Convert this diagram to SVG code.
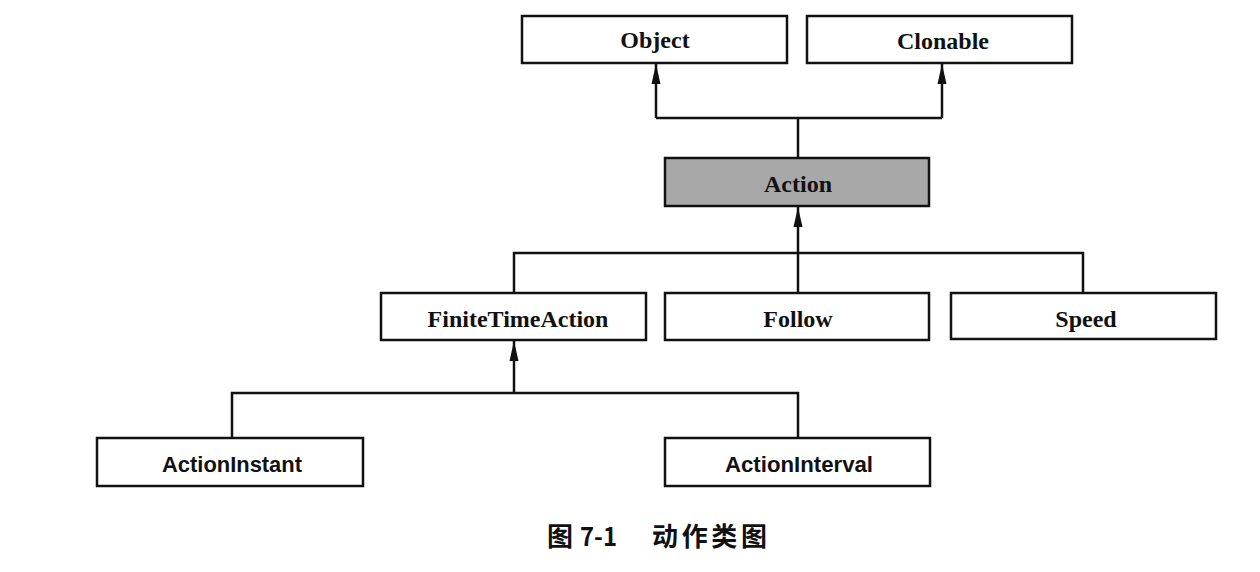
<svg xmlns="http://www.w3.org/2000/svg" width="1260" height="572" viewBox="0 0 1260 572">
<style>
.box{fill:#ffffff;stroke:#111;stroke-width:2.5}
.gray{fill:#a8a8a8}
.t{font-family:"Liberation Serif","Times New Roman",serif;font-weight:bold;font-size:24px;fill:#111;text-anchor:middle}
.s{font-family:"Liberation Sans",Arial,sans-serif;font-weight:bold;font-size:22px;fill:#111;text-anchor:middle}
.ln{fill:none;stroke:#111;stroke-width:2.5}
.cap{font-family:"Noto Sans CJK SC","Liberation Sans",sans-serif;font-weight:bold;font-size:26px;fill:#111}
</style>
<defs>
<marker id="arr" viewBox="0 0 20 10" refX="20" refY="5" markerWidth="20" markerHeight="10" markerUnits="userSpaceOnUse" orient="auto">
<path d="M0,0.5 L20,5 L0,9.5 Z" fill="#111"/>
</marker>
</defs>
<rect width="1260" height="572" fill="#ffffff"/>
<g id="connectors">
<path class="ln" d="M798,158 V118"/>
<path class="ln" d="M656,118 H942"/>
<path class="ln" d="M656,118 V64" marker-end="url(#arr)"/>
<path class="ln" d="M942,118 V64" marker-end="url(#arr)"/>
<path class="ln" d="M798,293 V207" marker-end="url(#arr)"/>
<path class="ln" d="M514,293 V253 H1083 V293"/>
<path class="ln" d="M514,393 V341" marker-end="url(#arr)"/>
<path class="ln" d="M232,438 V393 H798 V438"/>
</g>
<g id="node-object">
<rect class="box" x="522" y="16" width="265" height="47"/>
<text class="t" x="655" y="48">Object</text>
</g>
<g id="node-clonable">
<rect class="box" x="807" y="16" width="265" height="47"/>
<text class="t" x="943" y="49">Clonable</text>
</g>
<g id="node-action">
<rect class="box gray" x="665" y="158" width="264" height="48"/>
<text class="t" x="798" y="192">Action</text>
</g>
<g id="node-finitetimeaction">
<rect class="box" x="381" y="293" width="265" height="47"/>
<text class="t" x="518" y="327">FiniteTimeAction</text>
</g>
<g id="node-follow">
<rect class="box" x="665" y="293" width="264" height="47"/>
<text class="t" x="798" y="327">Follow</text>
</g>
<g id="node-speed">
<rect class="box" x="951" y="293" width="265" height="46"/>
<text class="t" x="1086" y="327">Speed</text>
</g>
<g id="node-actioninstant">
<rect class="box" x="97" y="438" width="266" height="48"/>
<text class="s" x="232" y="472" textLength="140" lengthAdjust="spacingAndGlyphs">ActionInstant</text>
</g>
<g id="node-actioninterval">
<rect class="box" x="665" y="438" width="265" height="48"/>
<text class="s" x="799" y="472" textLength="148" lengthAdjust="spacingAndGlyphs">ActionInterval</text>
</g>
<g id="caption">
<text class="cap" x="547" y="546">图</text>
<text class="cap" x="580" y="546" textLength="37" lengthAdjust="spacingAndGlyphs">7-1</text>
<text class="cap" x="652" y="546" textLength="115" lengthAdjust="spacing">动作类图</text>
</g>
</svg>
